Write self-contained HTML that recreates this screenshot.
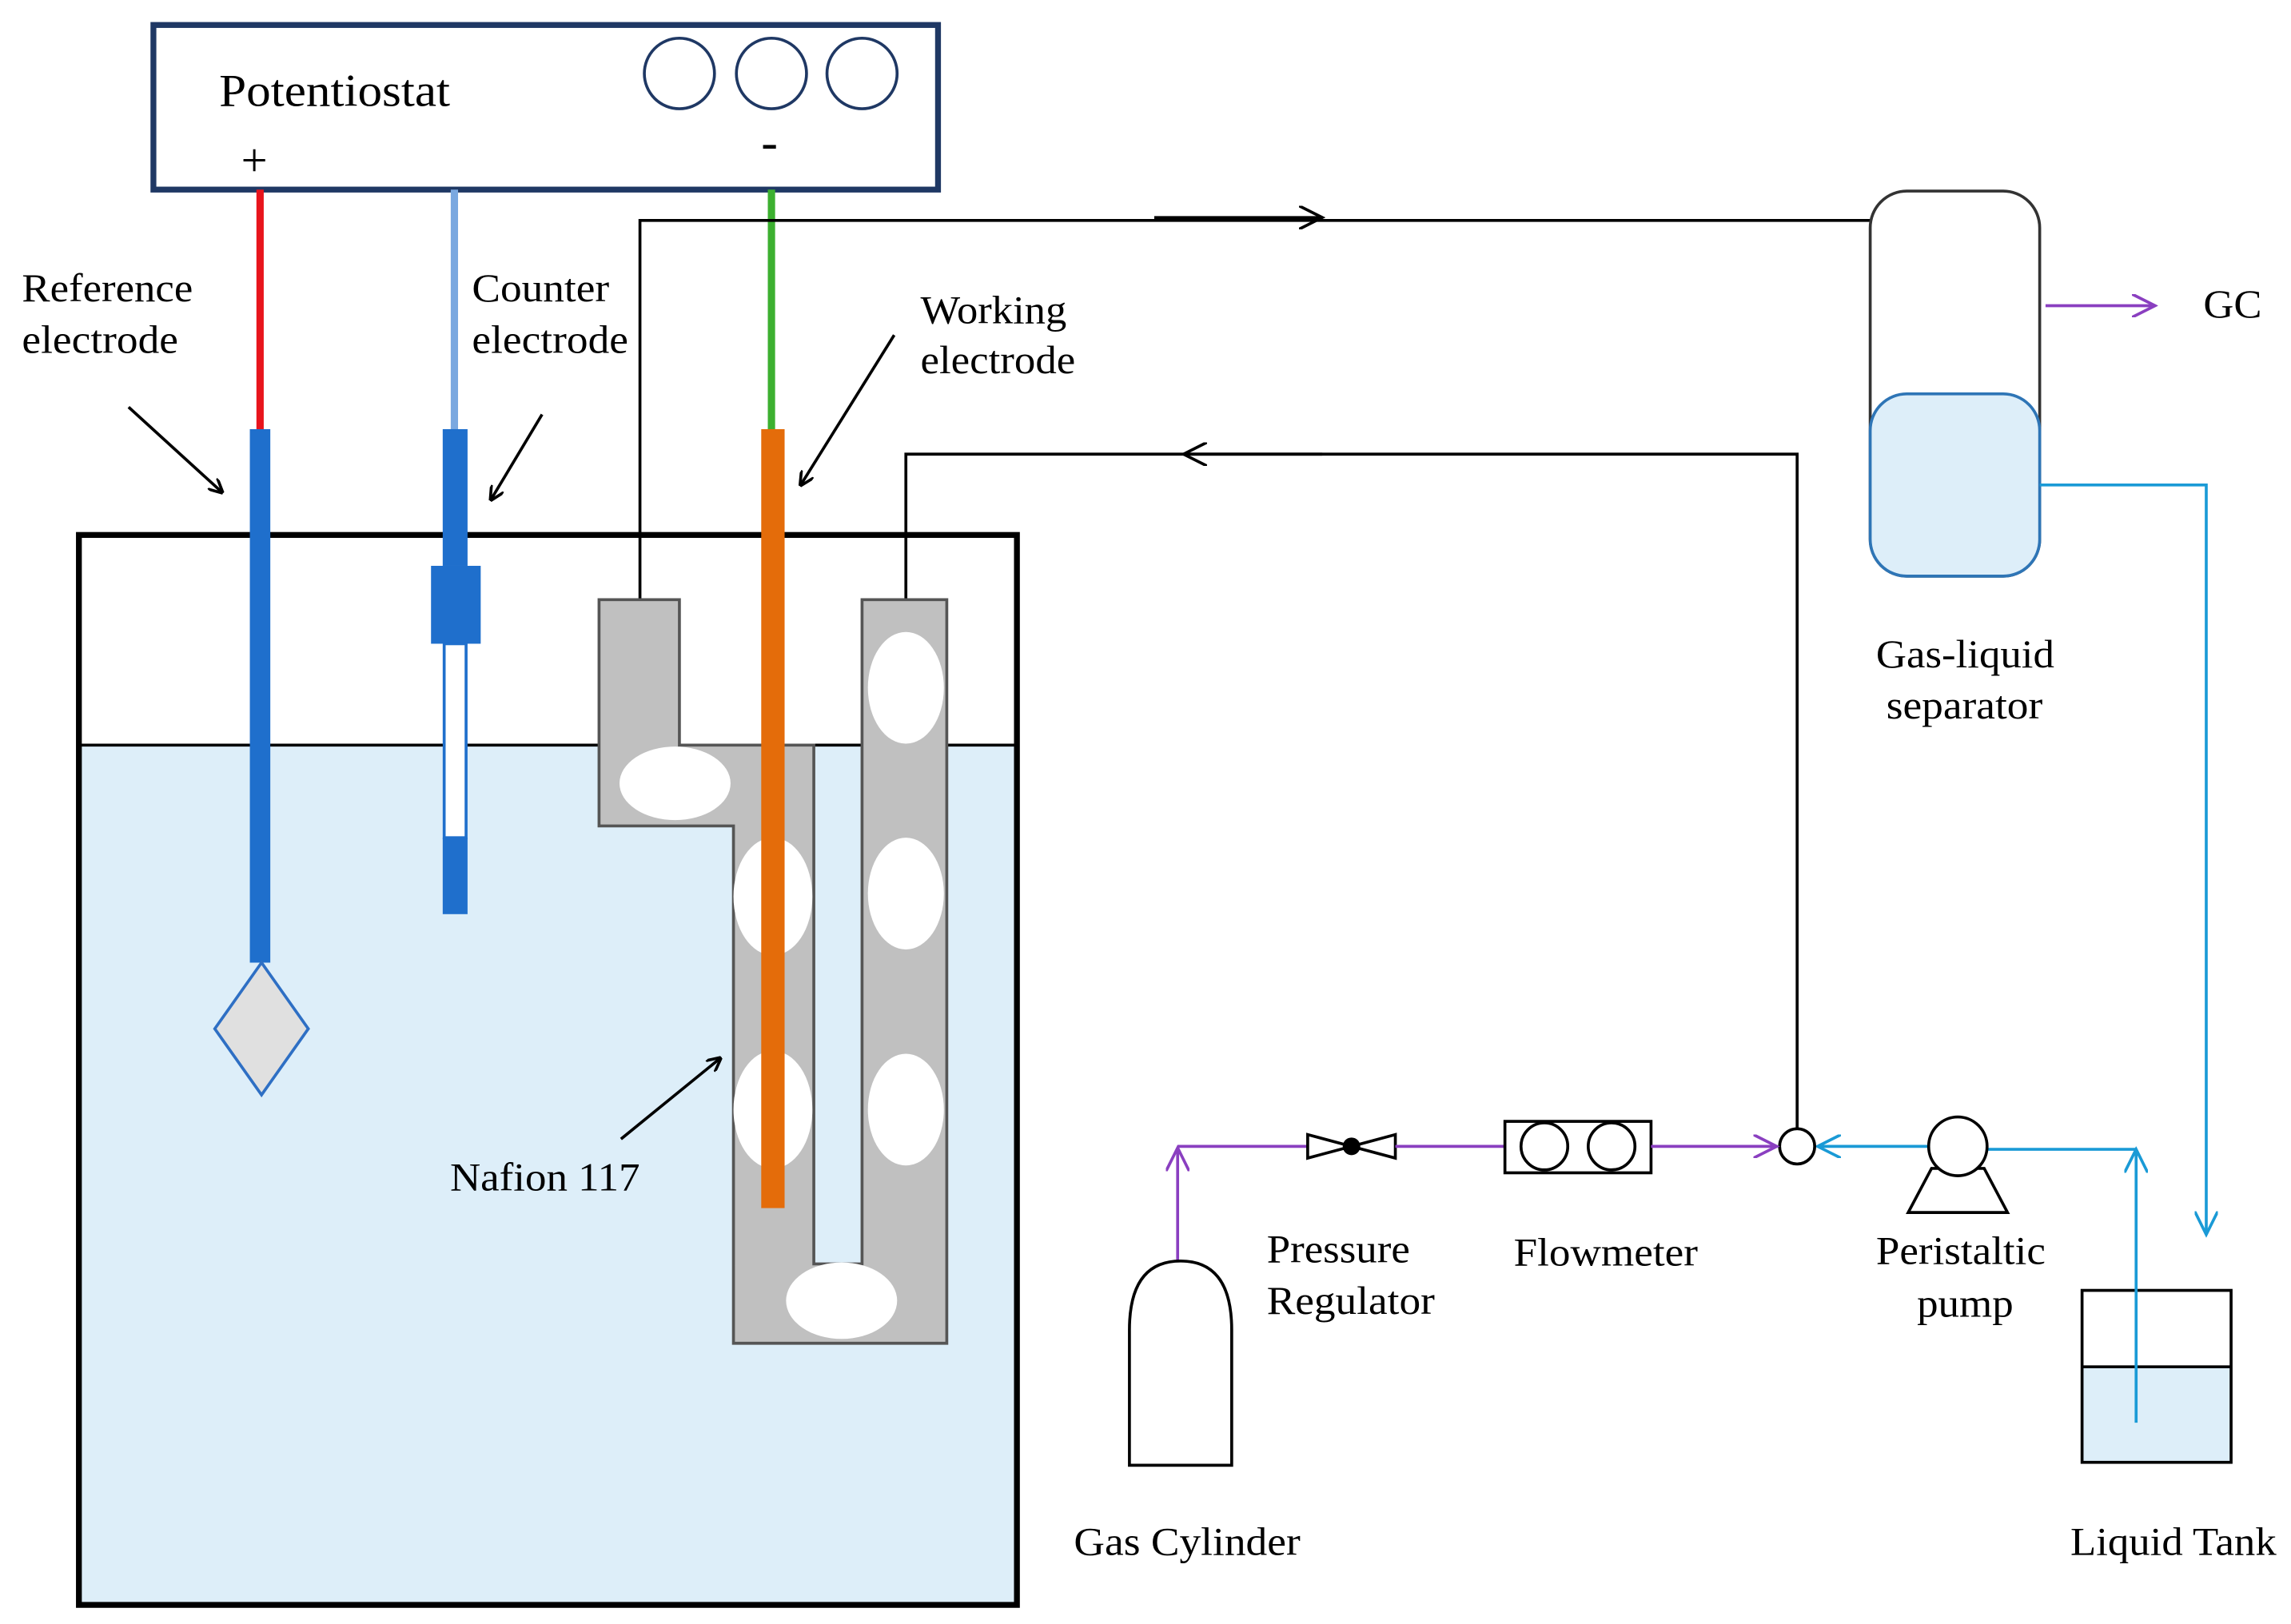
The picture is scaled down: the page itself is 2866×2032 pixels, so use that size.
<!DOCTYPE html>
<html><head><meta charset="utf-8"><style>html,body{margin:0;padding:0;background:#fff}svg{display:block}</style></head>
<body>
<svg width="2866" height="2032" viewBox="0 0 1568 1105" preserveAspectRatio="none" xmlns="http://www.w3.org/2000/svg" font-family="Liberation Serif, serif" font-size="27" fill="#000">
<defs>
<marker id="ak" markerWidth="10" markerHeight="10" refX="9" refY="5" orient="auto" markerUnits="userSpaceOnUse"><path d="M0,0 L10,5 L0,10" fill="none" stroke="#000" stroke-width="2"/></marker>
<marker id="ab" markerWidth="18" markerHeight="16" refX="16" refY="8" orient="auto" markerUnits="userSpaceOnUse"><path d="M0,0 L16,8 L0,16" fill="none" stroke="#000" stroke-width="2"/></marker>
<marker id="ap" markerWidth="18" markerHeight="16" refX="16" refY="8" orient="auto" markerUnits="userSpaceOnUse"><path d="M0,0 L16,8 L0,16" fill="none" stroke="#8a3fc0" stroke-width="2"/></marker>
<marker id="abl" markerWidth="18" markerHeight="16" refX="16" refY="8" orient="auto" markerUnits="userSpaceOnUse"><path d="M0,0 L16,8 L0,16" fill="none" stroke="#1a9ad6" stroke-width="2"/></marker>
</defs>
<rect x="105" y="17" width="537" height="112" fill="#fff" stroke="#1f3864" stroke-width="4"/>
<text x="150" y="72" font-size="31" textLength="158" lengthAdjust="spacingAndGlyphs">Potentiostat</text>
<circle cx="465" cy="50" r="24" fill="none" stroke="#1f3864" stroke-width="2"/>
<circle cx="528" cy="50" r="24" fill="none" stroke="#1f3864" stroke-width="2"/>
<circle cx="590" cy="50" r="24" fill="none" stroke="#1f3864" stroke-width="2"/>
<text x="165" y="120" font-size="32">+</text>
<text x="521" y="108" font-size="34">-</text>
<line x1="178" y1="129" x2="178" y2="292" stroke="#e8141c" stroke-width="5"/>
<line x1="311" y1="129" x2="311" y2="292" stroke="#7aa8e0" stroke-width="5"/>
<line x1="528" y1="129" x2="528" y2="292" stroke="#3cb030" stroke-width="5"/>
<rect x="54" y="507" width="642" height="585" fill="#ddeef9"/>
<rect x="54" y="364" width="642" height="728" fill="none" stroke="#000" stroke-width="4"/>
<line x1="54" y1="507" x2="696" y2="507" stroke="#000" stroke-width="2"/>
<polyline points="438,408 438,150 1280,150" fill="none" stroke="#000" stroke-width="2"/>
<line x1="790" y1="148" x2="905" y2="148" stroke="#000" stroke-width="2" marker-end="url(#ab)"/>
<polyline points="620,408 620,309 1230,309 1230,768" fill="none" stroke="#000" stroke-width="2"/>
<line x1="905" y1="309" x2="810" y2="309" stroke="#000" stroke-width="2" marker-end="url(#ab)"/>
<path d="M410,408 H465 V507 H557 V860 H590 V408 H648 V914 H502 V562 H410 Z" fill="#c0c0c0" stroke="#555" stroke-width="2"/>
<g fill="#fff">
<ellipse cx="462" cy="533" rx="38" ry="25"/>
<ellipse cx="529" cy="610" rx="27" ry="40"/>
<ellipse cx="529" cy="755" rx="27" ry="40"/>
<ellipse cx="620" cy="468" rx="26" ry="38"/>
<ellipse cx="620" cy="608" rx="26" ry="38"/>
<ellipse cx="620" cy="755" rx="26" ry="38"/>
<ellipse cx="576" cy="885" rx="38" ry="26"/>
</g>
<rect x="171" y="292" width="14" height="363" fill="#1f6fcc"/>
<polygon points="179,655 211,700 179,745 147,700" fill="#e0e0e0" stroke="#2e6fc4" stroke-width="2"/>
<rect x="303" y="292" width="17" height="93" fill="#1f6fcc"/>
<rect x="295" y="385" width="34" height="53" fill="#1f6fcc"/>
<rect x="304" y="438" width="15" height="132" fill="#fff" stroke="#1f6fcc" stroke-width="2"/>
<rect x="303" y="570" width="17" height="52" fill="#1f6fcc"/>
<rect x="521" y="292" width="16" height="530" fill="#e46c0a"/>
<line x1="88" y1="277" x2="152" y2="335" stroke="#000" stroke-width="2" marker-end="url(#ak)"/>
<line x1="371" y1="282" x2="336" y2="340" stroke="#000" stroke-width="2" marker-end="url(#ak)"/>
<line x1="612" y1="228" x2="548" y2="330" stroke="#000" stroke-width="2" marker-end="url(#ak)"/>
<line x1="425" y1="775" x2="493" y2="720" stroke="#000" stroke-width="2" marker-end="url(#ak)"/>
<rect x="1280" y="130" width="116" height="262" rx="25" fill="#fff" stroke="#333" stroke-width="2"/>
<rect x="1280" y="268" width="116" height="124" rx="25" fill="#ddeef9" stroke="#2e75b6" stroke-width="2"/>
<line x1="1400" y1="208" x2="1475" y2="208" stroke="#8a3fc0" stroke-width="2" marker-end="url(#ap)"/>
<text x="1508" y="216" textLength="40" lengthAdjust="spacingAndGlyphs">GC</text>
<polyline points="1396,330 1510,330 1510,840" fill="none" stroke="#1a9ad6" stroke-width="2" marker-end="url(#abl)"/>
<rect x="1425" y="930" width="102" height="65" fill="#ddeef9"/>
<rect x="1425" y="878" width="102" height="117" fill="none" stroke="#000" stroke-width="2"/>
<line x1="1425" y1="930" x2="1527" y2="930" stroke="#000" stroke-width="2"/>
<line x1="1462" y1="968" x2="1462" y2="782" stroke="#1a9ad6" stroke-width="2" marker-end="url(#abl)"/>
<line x1="1462" y1="782" x2="1360" y2="782" stroke="#1a9ad6" stroke-width="2"/>
<line x1="1320" y1="780" x2="1244" y2="780" stroke="#1a9ad6" stroke-width="2" marker-end="url(#abl)"/>
<polygon points="1322,795 1358,795 1374,825 1306,825" fill="#fff" stroke="#000" stroke-width="2"/>
<circle cx="1340" cy="780" r="20" fill="#fff" stroke="#000" stroke-width="2"/>
<circle cx="1230" cy="780" r="12" fill="#fff" stroke="#000" stroke-width="2"/>
<line x1="806" y1="858" x2="806" y2="781" stroke="#8a3fc0" stroke-width="2" marker-end="url(#ap)"/>
<line x1="806" y1="780" x2="895" y2="780" stroke="#8a3fc0" stroke-width="2"/>
<polygon points="895,772 925,780 895,788" fill="#fff" stroke="#000" stroke-width="2"/>
<polygon points="955,772 925,780 955,788" fill="#fff" stroke="#000" stroke-width="2"/>
<circle cx="925" cy="780" r="6" fill="#000"/>
<line x1="955" y1="780" x2="1030" y2="780" stroke="#8a3fc0" stroke-width="2"/>
<rect x="1030" y="763" width="100" height="35" fill="#fff" stroke="#000" stroke-width="2"/>
<circle cx="1057" cy="780" r="16" fill="none" stroke="#000" stroke-width="2"/>
<circle cx="1103" cy="780" r="16" fill="none" stroke="#000" stroke-width="2"/>
<line x1="1130" y1="780" x2="1216" y2="780" stroke="#8a3fc0" stroke-width="2" marker-end="url(#ap)"/>
<path d="M773,997 V905 Q773,858 808,858 Q843,858 843,905 V997 Z" fill="#fff" stroke="#000" stroke-width="2"/>
<text x="15" y="205" textLength="117" lengthAdjust="spacingAndGlyphs">Reference</text><text x="15" y="240" textLength="107" lengthAdjust="spacingAndGlyphs">electrode</text>
<text x="323" y="205" textLength="94" lengthAdjust="spacingAndGlyphs">Counter</text><text x="323" y="240" textLength="107" lengthAdjust="spacingAndGlyphs">electrode</text>
<text x="630" y="220" textLength="100" lengthAdjust="spacingAndGlyphs">Working</text><text x="630" y="254" textLength="106" lengthAdjust="spacingAndGlyphs">electrode</text>
<text x="308" y="810" textLength="130" lengthAdjust="spacingAndGlyphs">Nafion 117</text>
<text x="1284" y="454" textLength="122" lengthAdjust="spacingAndGlyphs">Gas-liquid</text><text x="1291" y="489" textLength="107" lengthAdjust="spacingAndGlyphs">separator</text>
<text x="867" y="859" textLength="98" lengthAdjust="spacingAndGlyphs">Pressure</text><text x="867" y="894" textLength="115" lengthAdjust="spacingAndGlyphs">Regulator</text>
<text x="1036" y="861" textLength="126" lengthAdjust="spacingAndGlyphs">Flowmeter</text>
<text x="1284" y="860" textLength="116" lengthAdjust="spacingAndGlyphs">Peristaltic</text><text x="1312" y="896" textLength="66" lengthAdjust="spacingAndGlyphs">pump</text>
<text x="735" y="1058" textLength="155" lengthAdjust="spacingAndGlyphs">Gas Cylinder</text>
<text x="1417" y="1058" textLength="141" lengthAdjust="spacingAndGlyphs">Liquid Tank</text>
</svg>
</body></html>
